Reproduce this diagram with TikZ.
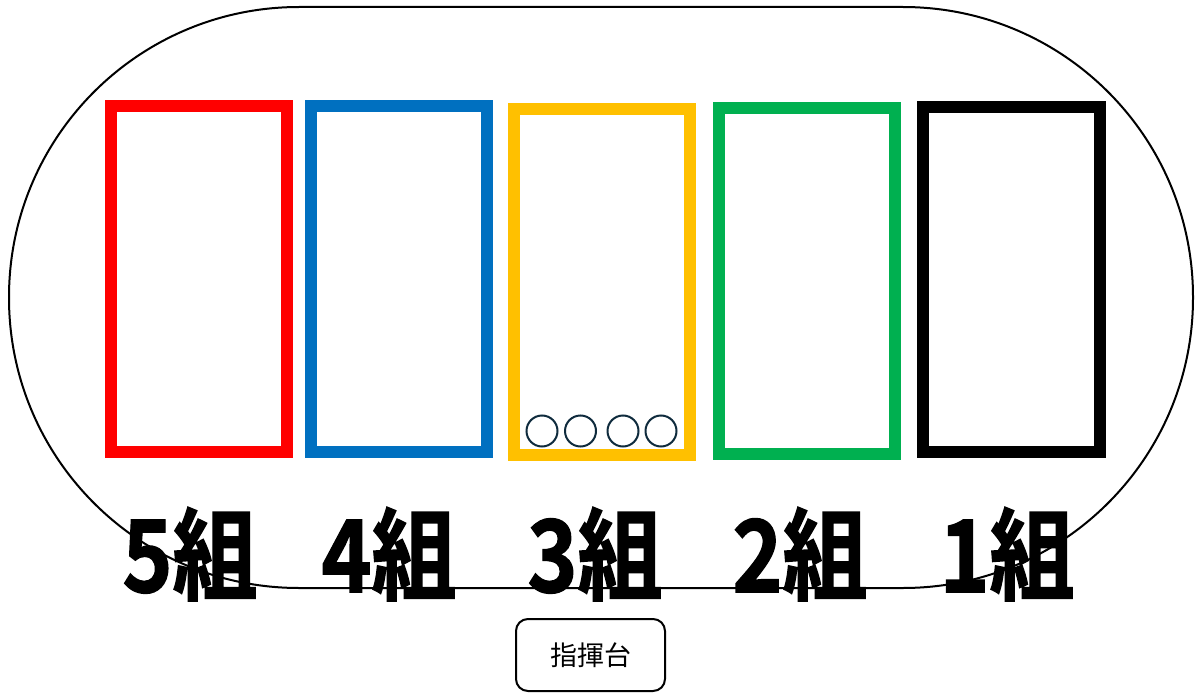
\documentclass[tikz,border=0pt]{standalone}
\usepackage{fontspec}
\newfontfamily\cjk{Noto Sans CJK JP}
\newfontfamily\cjkbold{Noto Sans CJK JP}[FakeBold=1.5,BoldFont={* Bold}]
\definecolor{cred}{HTML}{FF0000}
\definecolor{cblue}{HTML}{0070C0}
\definecolor{cyellow}{HTML}{FFC000}
\definecolor{cgreen}{HTML}{00B050}
\definecolor{cnavy}{HTML}{0F2B3D}
\begin{document}
\begin{tikzpicture}[x=1pt,y=-1pt,
  lane/.style={line width=12pt},
  grp/.style={anchor=base,inner sep=0pt,font=\cjkbold\bfseries\fontsize{100}{100}\selectfont},
  seat/.style={draw=cnavy,line width=2pt,circle,minimum size=31pt,inner sep=0pt},
  podium/.style={draw,line width=2pt,rounded corners=12pt,minimum width=149pt,minimum height=72pt,font=\cjk\fontsize{27}{27}\selectfont}]
\useasboundingbox (0,0) rectangle (1195,693);
% stadium
\draw[line width=2pt,rounded corners=290pt] (9,7) rectangle (1193,588);
% lanes
\draw[lane,cred] (111,106) rectangle (287,452);
\draw[lane,cblue] (311,106) rectangle (487,452);
\draw[lane,cyellow] (514,109) rectangle (690,455);
\draw[lane,cgreen] (719,108) rectangle (895,454);
\draw[lane,black] (923,107) rectangle (1100,452);
% seats
\node[seat] (s1) at (542,431) {};
\node[seat] (s2) at (580.5,431) {};
\node[seat] (s3) at (623,431) {};
\node[seat] (s4) at (661,431) {};
% labels
\node[grp] (g5) at (190,592) {\scalebox{0.85}[1]{5組}};
\node[grp] (g4) at (389,592) {\scalebox{0.85}[1]{4組}};
\node[grp] (g3) at (595,592) {\scalebox{0.85}[1]{3組}};
\node[grp] (g2) at (800,592) {\scalebox{0.85}[1]{2組}};
\node[grp] (g1) at (1007,592) {\scalebox{0.85}[1]{1組}};
% podium
\node[podium] (p) at (590.5,655) {指揮台};
\end{tikzpicture}
\end{document}
